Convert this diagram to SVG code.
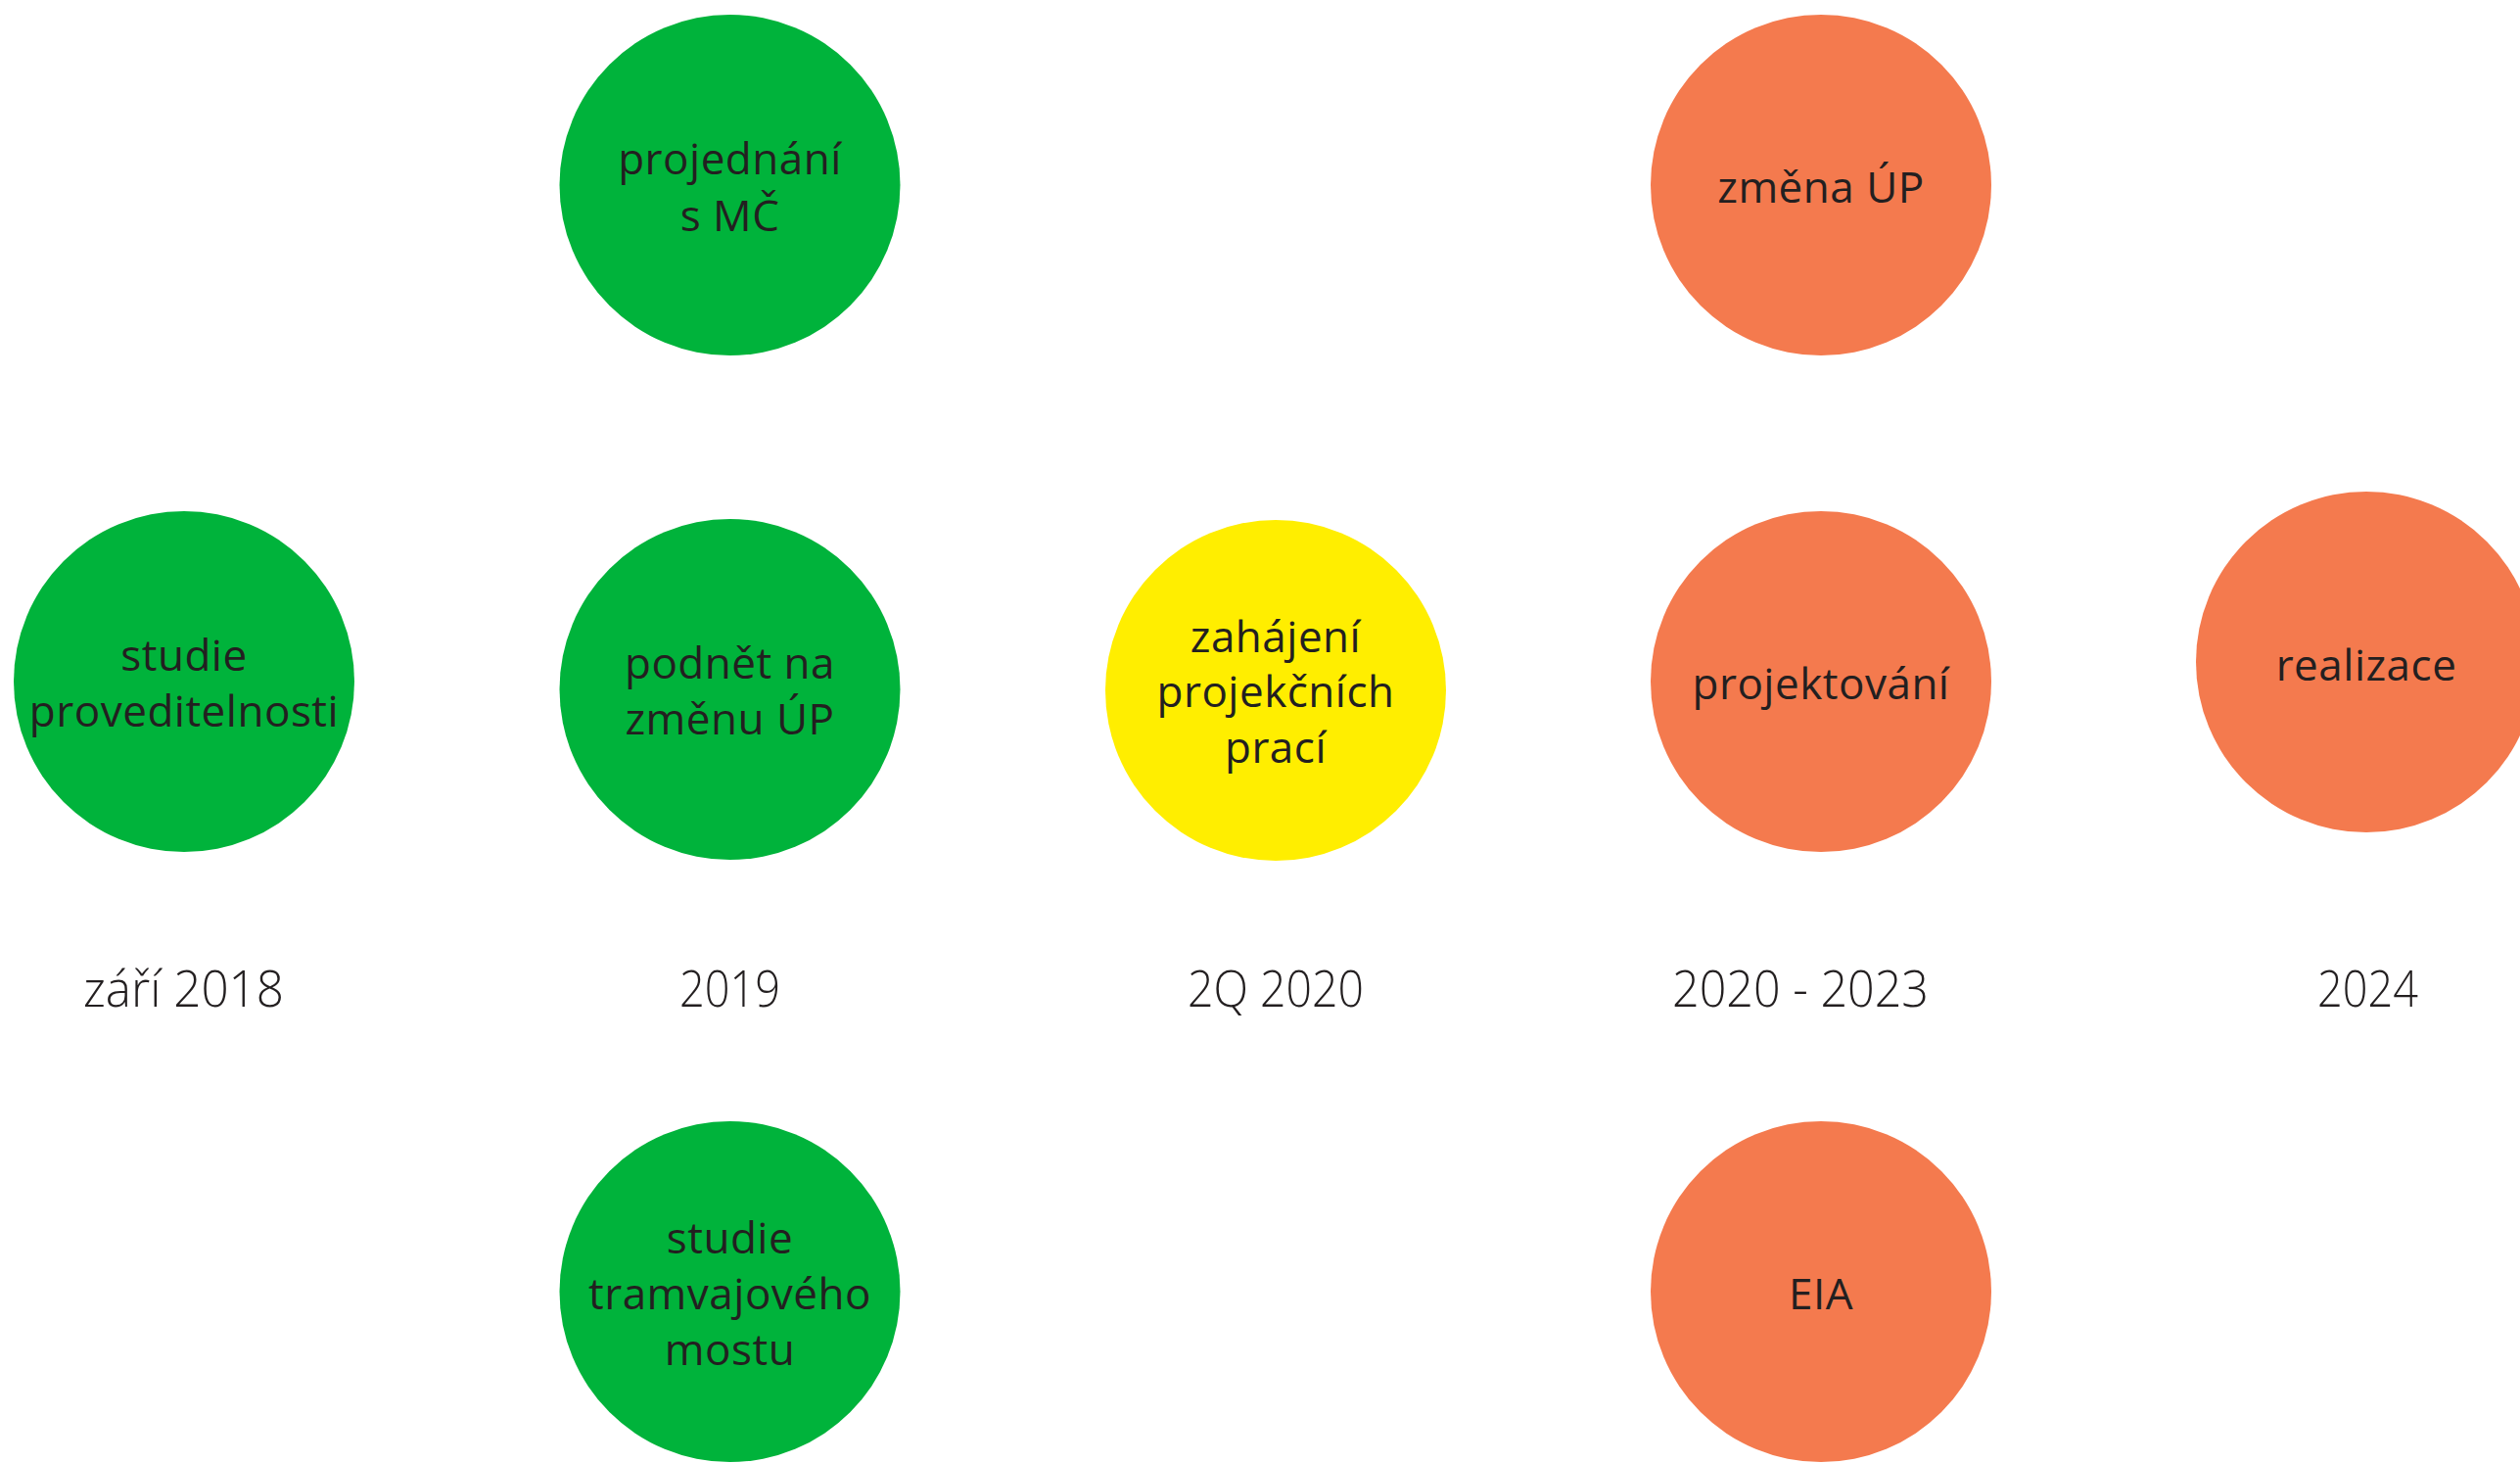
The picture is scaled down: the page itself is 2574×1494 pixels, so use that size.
<svg xmlns="http://www.w3.org/2000/svg" width="2574" height="1494" viewBox="0 0 2574 1494">
<style>
.bg{fill:#ffffff}
.g{fill:#00b33b}
.y{fill:#ffee00}
.o{fill:#f47a4e}
.t{font-family:"Open Sans","DejaVu Sans",sans-serif;font-size:44px;fill:#231f20;text-anchor:middle;letter-spacing:0.5px}
.d{font-family:"Open Sans","DejaVu Sans",sans-serif;font-size:52px;font-weight:300;fill:#231f20;text-anchor:middle}
</style>
<rect class="bg" x="0" y="0" width="2574" height="1494"/>
<g id="connectors"/>
<g id="n-studie-proveditelnosti">
<circle class="g" cx="188" cy="696" r="174"/>
<text class="t" x="188" y="685">studie</text>
<text class="t" x="188" y="742">proveditelnosti</text>
</g>
<g id="n-projednani">
<circle class="g" cx="745.5" cy="189" r="174"/>
<text class="t" x="745.5" y="178">projednání</text>
<text class="t" x="745.5" y="236">s MČ</text>
</g>
<g id="n-podnet">
<circle class="g" cx="745.5" cy="704" r="174"/>
<text class="t" x="745.5" y="693">podnět na</text>
<text class="t" x="745.5" y="750">změnu ÚP</text>
</g>
<g id="n-studie-most">
<circle class="g" cx="745.5" cy="1319" r="174"/>
<text class="t" x="745.5" y="1280">studie</text>
<text class="t" x="745.5" y="1337">tramvajového</text>
<text class="t" x="745.5" y="1394">mostu</text>
</g>
<g id="n-zahajeni">
<circle class="y" cx="1303" cy="705" r="174"/>
<text class="t" x="1303" y="666">zahájení</text>
<text class="t" x="1303" y="722">projekčních</text>
<text class="t" x="1303" y="779">prací</text>
</g>
<g id="n-zmena-up">
<circle class="o" cx="1860" cy="189" r="174"/>
<text class="t" x="1860" y="207">změna ÚP</text>
</g>
<g id="n-projektovani">
<circle class="o" cx="1860" cy="696" r="174"/>
<text class="t" x="1860" y="714">projektování</text>
</g>
<g id="n-eia">
<circle class="o" cx="1860" cy="1319" r="174"/>
<text class="t" x="1860" y="1337">EIA</text>
</g>
<g id="n-realizace">
<circle class="o" cx="2417" cy="676" r="174"/>
<text class="t" x="2417" y="695">realizace</text>
</g>
<g id="dates">
<text class="d" x="187.5" y="1028" textLength="205" lengthAdjust="spacingAndGlyphs">září 2018</text>
<text class="d" x="745.5" y="1028" textLength="103" lengthAdjust="spacingAndGlyphs">2019</text>
<text class="d" x="1303" y="1028" textLength="180" lengthAdjust="spacingAndGlyphs">2Q 2020</text>
<text class="d" x="1839" y="1028" textLength="262" lengthAdjust="spacingAndGlyphs">2020 - 2023</text>
<text class="d" x="2418.5" y="1028" textLength="103" lengthAdjust="spacingAndGlyphs">2024</text>
</g>
</svg>
